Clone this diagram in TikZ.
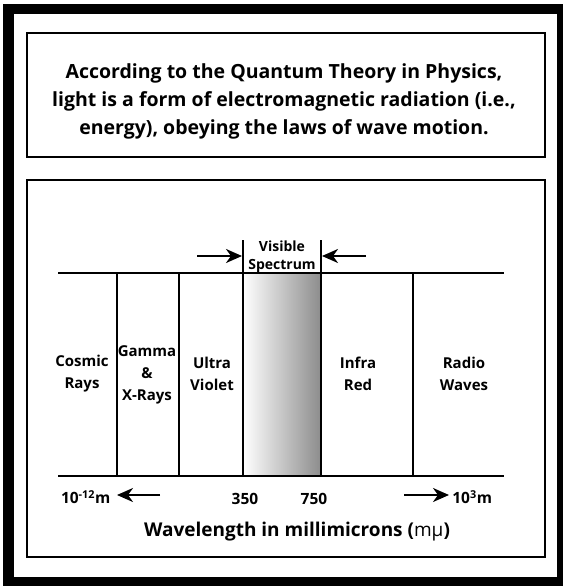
\documentclass[tikz,border=0pt]{standalone}
\usepackage{fontspec}
\setmainfont{Open Sans}
\usetikzlibrary{arrows.meta}
\tikzset{
  titletext/.style={font=\bfseries\fontsize{19.5}{28}\selectfont, align=center},
  bandtext/.style={font=\bfseries\fontsize{15}{22}\selectfont, align=center, inner sep=0pt},
  scaletext/.style={font=\bfseries\fontsize{15.5}{18}\selectfont, inner sep=0pt},
  rangearrow/.style={-{Stealth[length=16pt,width=14pt,inset=5pt]}, line width=2.2pt},
}
\begin{document}
\begin{tikzpicture}[x=1pt, y=-1pt, line width=2pt]
    \useasboundingbox (0,0) rectangle (563,586);
    % Frame and boxes
    \fill[black] (3,4) rectangle (563,586);
    \fill[white] (14,14) rectangle (557,577);
    \draw (27,33) rectangle (545,157);
    \draw (27,180) rectangle (545,557);
    \node[titletext] (theory) at (284,101) {According to the Quantum Theory in Physics,\\light is a form of electromagnetic radiation (i.e.,\\energy), obeying the laws of wave motion.};
    % Visible band
    \shade[left color=white, right color=black!45] (243,273) rectangle (321,476);
    % Spectrum grid
    \draw (58,273) -- (504,273);
    \draw (58,476) -- (504,476);
    \foreach \x in {117,179,413} \draw (\x,273) -- (\x,476);
    \draw (243,240) -- (243,476);
    \draw (321,240) -- (321,476);
    % Band labels
    \node[bandtext] (cosmic) at (82,374) {Cosmic\\Rays};
    \node[bandtext] (gamma) at (147,375) {Gamma\\\&\\X-Rays};
    \node[bandtext] (ultra) at (212,374) {Ultra\\Violet};
    \node[bandtext] (infra) at (358,374) {Infra\\Red};
    \node[bandtext] (radio) at (464,374) {Radio\\Waves};
    \node[bandtext, font=\bfseries\fontsize{14}{18}\selectfont] (visible) at (282,257) {Visible\\Spectrum};
    \coordinate (visL) at (242,256);
    \coordinate (visR) at (322,256);
    \coordinate (fromL) at (197,256);
    \coordinate (fromR) at (366,256);
    \draw[rangearrow] (fromL) -- (visL);
    \draw[rangearrow] (fromR) -- (visR);
    % Scale
    \node[scaletext, anchor=west] (short) at (60,497) {10\textsuperscript{-12}m};
    \node[scaletext] (n350) at (245,499) {350};
    \node[scaletext] (n750) at (314,499) {750};
    \node[scaletext, anchor=east] (long) at (493,497) {10\textsuperscript{3}m};
    \coordinate (shortTail) at (160,495);
    \coordinate (shortTip) at (117,495);
    \coordinate (longTail) at (404,495);
    \coordinate (longTip) at (449,495);
    \draw[rangearrow] (shortTail) -- (shortTip);
    \draw[rangearrow] (longTail) -- (longTip);
    \node[font=\bfseries\fontsize{19}{22}\selectfont, inner sep=0pt] (axis) at (297,532) {Wavelength in millimicrons ({\mdseries mμ})};
\end{tikzpicture}
\end{document}
